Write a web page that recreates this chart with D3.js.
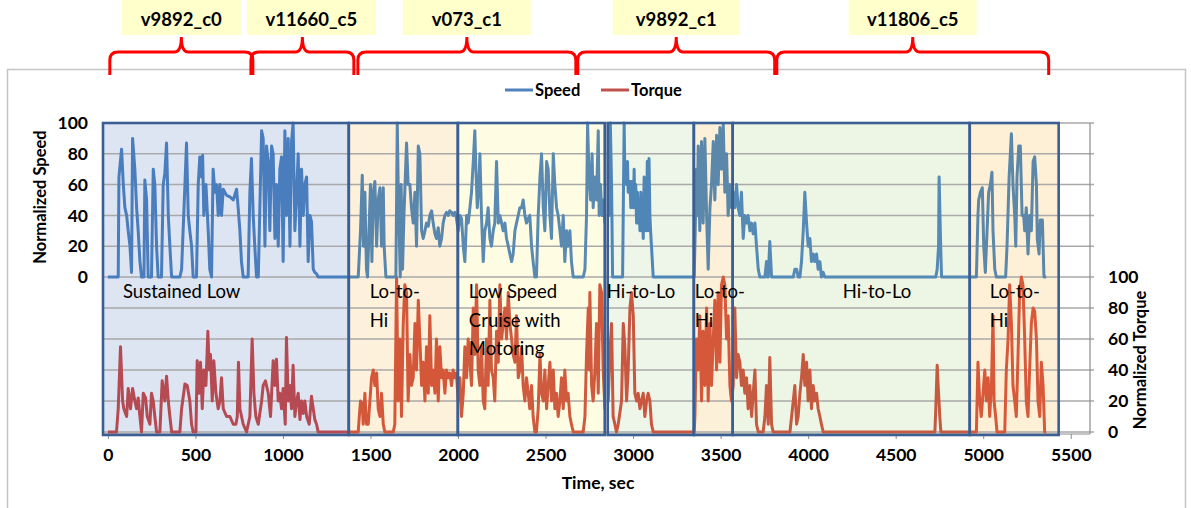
<!DOCTYPE html>
<html>
<head>
<meta charset="utf-8">
<script src="https://cdn.jsdelivr.net/npm/d3@7"></script>
<style>
body { margin: 0; background: #fff; }
text { font-family: Lato, "Liberation Sans", sans-serif; }
</style>
</head>
<body>
<div id="chart"></div>
<script>
// vehicle cycles shown as brackets above the chart (time, sec)
var cycleNames = ["v9892_c0", "v11660_c5", "v073_c1", "v9892_c1", "v11806_c5"];
var cycleStart = [11, 817, 1428, 2684, 3821];
var cycleEnd = [828, 1405, 2673, 3809, 5374];

// shaded segments (time, sec)
var regionLabels = [["Sustained Low"], ["Lo-to-", "Hi"], ["Low Speed", "Cruise with", "Motoring"],
                    ["Hi-to-Lo"], ["Lo-to-", "Hi"], ["Hi-to-Lo"], ["Lo-to-", "Hi"]];
var regionStart = [-28, 1376, 1999, 2855, 3347, 3569, 4923];
var regionEnd = [1376, 1999, 2838, 3347, 3569, 4923, 5431];

var xTicks = [0, 500, 1000, 1500, 2000, 2500, 3000, 3500, 4000, 4500, 5000, 5500];
var speedTicks = [0, 20, 40, 60, 80, 100];
var torqueTicks = [0, 20, 40, 60, 80, 100];

// [time, normalized speed]
var speed = [
  [0,0],[59,0],[63,65],[78,83],[88,60],[97,45],[107,40],[116,30],[126,20],[135,3],[141,90],[154,70],[164,45],[173,30],[183,10],[192,0],
  [206,0],[211,63],[221,50],[230,0],[249,0],[259,70],[268,60],[278,20],[287,0],[306,0],[316,60],[325,67],[335,87],[345,40],[354,20],[364,0],
  [411,0],[421,5],[440,60],[449,87],[459,40],[468,30],[478,20],[487,0],[506,0],[516,60],[525,78],[535,65],[541,79],[548,40],[560,60],[573,30],
  [582,5],[592,0],[601,70],[611,55],[621,60],[630,40],[640,60],[649,40],[659,57],[668,55],[678,53],[697,52],[716,50],[735,57],[744,45],[754,30],
  [763,10],[773,0],[801,0],[811,55],[820,77],[830,40],[839,20],[849,0],[859,0],[878,95],[887,90],[897,20],[906,85],[916,75],[925,30],[935,85],
  [944,80],[954,25],[963,60],[973,20],[982,70],[992,78],[1001,10],[1011,95],[1020,40],[1030,90],[1040,20],[1049,88],[1058,100],[1068,30],
  [1078,55],[1087,80],[1097,20],[1106,70],[1116,40],[1125,60],[1135,65],[1144,10],[1154,40],[1163,36],[1173,5],[1182,3],[1192,2],[1201,0],
  [1430,0],[1443,30],[1453,66],[1460,20],[1468,55],[1477,5],[1483,0],[1493,35],[1500,60],[1508,10],[1516,55],[1525,62],[1535,20],[1544,50],
  [1554,58],[1563,20],[1573,58],[1578,20],[1588,0],[1645,0],[1653,100],[1658,60],[1664,30],[1670,0],[1675,60],[1683,5],[1691,40],[1706,87],
  [1715,60],[1725,60],[1734,45],[1744,35],[1754,55],[1763,20],[1773,85],[1782,80],[1792,30],[1801,25],[1811,30],[1820,35],[1830,33],[1839,40],
  [1849,43],[1858,35],[1868,28],[1877,25],[1887,32],[1896,20],[1906,25],[1915,35],[1925,40],[1934,42],[1944,40],[1953,43],[1963,42],[1972,40],
  [1982,42],[1991,38],[2001,30],[2011,40],[2020,38],[2030,20],[2039,10],[2049,40],[2058,35],[2068,45],[2077,55],[2087,75],[2096,95],[2102,70],
  [2110,45],[2119,60],[2125,80],[2134,40],[2144,10],[2153,30],[2163,35],[2172,45],[2182,25],[2191,20],[2201,30],[2210,35],[2220,75],[2230,35],
  [2239,40],[2249,35],[2258,30],[2268,35],[2277,25],[2287,20],[2296,15],[2306,10],[2315,15],[2325,30],[2334,35],[2344,40],[2353,45],[2363,45],
  [2372,50],[2382,40],[2391,35],[2401,38],[2410,40],[2420,20],[2429,10],[2439,0],[2448,0],[2458,40],[2468,65],[2477,80],[2487,45],[2496,30],
  [2506,75],[2515,70],[2525,40],[2534,25],[2544,80],[2553,60],[2563,45],[2572,40],[2582,30],[2591,20],[2601,40],[2610,10],[2620,30],[2629,20],
  [2639,30],[2648,10],[2658,0],[2715,0],[2725,5],[2734,40],[2740,100],[2749,65],[2757,50],[2766,80],[2772,45],[2782,65],[2791,50],[2801,95],
  [2806,40],[2814,60],[2822,40],[2829,50],[2839,35],[2858,60],[2864,40],[2870,100],[2877,60],[2883,0],[2940,0],[2949,100],[2953,65],[2963,60],
  [2968,75],[2972,55],[2982,62],[2987,45],[2991,62],[3001,45],[3006,70],[3010,45],[3015,60],[3020,35],[3025,55],[3029,35],[3034,50],[3039,30],
  [3044,55],[3048,30],[3053,45],[3058,25],[3063,65],[3067,30],[3072,55],[3077,30],[3081,75],[3086,30],[3091,77],[3096,40],[3100,30],[3105,20],
  [3115,0],[3349,0],[3353,20],[3362,70],[3367,40],[3372,85],[3381,30],[3386,65],[3391,88],[3400,35],[3405,60],[3410,90],[3420,40],[3429,5],
  [3439,45],[3448,60],[3458,88],[3467,50],[3477,92],[3486,60],[3496,97],[3505,70],[3515,99],[3524,55],[3534,80],[3543,40],[3553,60],[3562,45],
  [3572,55],[3581,45],[3591,60],[3600,45],[3610,40],[3619,55],[3629,25],[3638,40],[3648,35],[3657,40],[3667,30],[3677,35],[3686,28],[3696,35],
  [3705,20],[3715,5],[3724,0],[3753,0],[3762,10],[3767,0],[3772,0],[3781,23],[3791,0],[3915,0],[3924,5],[3934,5],[3943,0],[3953,0],[3962,10],
  [3972,30],[3981,55],[3991,35],[4000,20],[4010,25],[4019,10],[4029,15],[4038,10],[4048,15],[4057,5],[4067,10],[4076,0],[4086,3],[4095,0],
  [4729,0],[4737,5],[4745,20],[4748,65],[4756,25],[4762,0],[4961,0],[4970,40],[4974,50],[4984,55],[4995,58],[5003,20],[5012,3],[5022,30],
  [5031,55],[5041,60],[5050,68],[5056,30],[5066,5],[5075,0],[5128,0],[5136,20],[5148,65],[5161,93],[5170,60],[5180,40],[5186,20],[5193,65],
  [5203,85],[5212,85],[5222,40],[5231,40],[5237,30],[5246,45],[5256,15],[5265,40],[5275,30],[5285,75],[5294,78],[5304,60],[5309,25],[5319,15],
  [5326,37],[5338,37],[5347,0],[5360,0]
];

// [time, normalized torque]
var torque = [
  [0,0],[49,0],[59,15],[72,55],[84,20],[91,15],[107,10],[116,28],[129,15],[141,28],[154,20],[164,15],[173,22],[183,10],[192,0],[202,25],
  [215,22],[225,10],[240,5],[249,25],[259,20],[268,10],[278,0],[297,0],[310,33],[325,20],[335,36],[345,20],[354,10],[364,0],[411,0],[421,15],
  [440,31],[453,30],[468,20],[478,5],[487,0],[503,0],[510,46],[520,25],[529,45],[539,15],[548,40],[560,30],[571,65],[579,40],[586,50],[596,20],
  [605,46],[617,25],[630,15],[640,20],[649,35],[659,15],[678,10],[697,10],[716,5],[731,5],[739,10],[746,45],[754,15],[773,5],[792,0],[811,10],
  [824,60],[834,25],[845,10],[859,5],[878,20],[887,30],[900,33],[916,25],[929,10],[944,46],[954,30],[963,47],[973,20],[982,25],[992,15],
  [1001,28],[1013,5],[1020,61],[1030,20],[1040,30],[1049,15],[1058,43],[1068,10],[1078,20],[1087,25],[1097,8],[1106,20],[1116,12],[1125,20],
  [1135,10],[1150,5],[1163,23],[1173,15],[1182,8],[1192,5],[1201,0],
  [1430,0],[1436,10],[1443,20],[1453,18],[1458,5],[1468,25],[1477,5],[1487,5],[1506,35],[1516,40],[1525,30],[1535,38],[1544,15],[1554,10],
  [1563,25],[1573,5],[1582,0],[1630,0],[1639,5],[1649,100],[1658,20],[1668,60],[1677,10],[1687,70],[1696,95],[1706,90],[1715,20],[1725,50],
  [1734,30],[1744,35],[1754,70],[1763,40],[1773,85],[1782,60],[1792,30],[1801,45],[1811,20],[1820,55],[1830,25],[1839,75],[1849,30],[1858,40],
  [1868,25],[1877,60],[1887,20],[1896,55],[1906,35],[1915,40],[1925,25],[1934,40],[1944,35],[1953,38],[1963,30],[1972,40],[1982,35],[1991,38],
  [2001,20],[2011,35],[2020,10],[2030,25],[2039,55],[2049,35],[2058,60],[2068,45],[2077,30],[2087,80],[2096,50],[2106,95],[2115,40],[2125,30],
  [2134,55],[2144,20],[2153,15],[2163,60],[2172,30],[2182,85],[2191,40],[2201,35],[2210,20],[2220,65],[2230,45],[2239,95],[2249,60],[2258,70],
  [2268,80],[2277,60],[2287,90],[2296,70],[2306,60],[2315,50],[2325,45],[2334,75],[2344,35],[2353,40],[2363,55],[2372,30],[2382,20],[2391,35],
  [2401,25],[2410,15],[2420,30],[2429,10],[2439,0],[2448,0],[2458,15],[2468,50],[2477,25],[2487,20],[2496,40],[2506,15],[2515,30],[2525,45],
  [2534,20],[2544,40],[2553,15],[2563,25],[2572,10],[2582,20],[2591,35],[2601,15],[2610,40],[2620,20],[2629,25],[2639,10],[2648,5],[2658,0],
  [2715,0],[2725,10],[2734,50],[2744,80],[2749,40],[2753,90],[2763,30],[2772,20],[2782,40],[2791,70],[2801,25],[2810,95],[2820,90],[2829,40],
  [2839,15],[2858,20],[2867,50],[2877,70],[2886,10],[2896,5],[2905,0],[2915,5],[2934,20],[2944,70],[2953,55],[2963,20],[2972,40],[2982,80],
  [2991,90],[3001,75],[3010,25],[3020,20],[3029,25],[3039,15],[3048,20],[3058,25],[3067,10],[3077,20],[3086,25],[3096,20],[3105,5],[3115,0],
  [3349,0],[3353,10],[3362,60],[3372,40],[3381,75],[3391,20],[3400,65],[3410,30],[3420,80],[3429,20],[3439,70],[3448,30],[3458,60],[3467,85],
  [3477,40],[3486,90],[3496,45],[3505,95],[3515,100],[3524,95],[3534,60],[3543,75],[3553,30],[3562,20],[3572,30],[3581,80],[3591,35],[3600,50],
  [3610,45],[3619,30],[3629,40],[3638,25],[3648,35],[3657,15],[3667,30],[3677,10],[3686,25],[3696,40],[3705,5],[3715,0],[3743,0],[3753,10],
  [3762,30],[3772,5],[3781,48],[3791,5],[3800,0],[3896,0],[3915,20],[3924,30],[3934,5],[3943,10],[3953,25],[3962,35],[3972,50],[3981,30],
  [3991,45],[4000,20],[4010,40],[4019,15],[4029,30],[4038,20],[4048,25],[4057,15],[4067,10],[4076,5],[4086,0],[4724,0],[4729,15],[4737,43],
  [4745,25],[4752,10],[4758,0],[4961,0],[4970,45],[4980,20],[4989,10],[4999,25],[5009,40],[5018,20],[5028,35],[5037,10],[5047,30],[5056,75],
  [5062,20],[5071,10],[5079,0],[5123,0],[5132,40],[5142,60],[5151,95],[5161,70],[5170,30],[5180,20],[5189,10],[5199,50],[5208,90],[5218,100],
  [5227,95],[5237,60],[5246,20],[5256,10],[5265,40],[5275,70],[5285,80],[5294,78],[5304,60],[5313,20],[5323,10],[5332,45],[5342,30],[5351,0],
  [5360,0]
];

function init() {

    var w = 1191;
    var h = 508;

    var plotLeft = 103, plotRight = 1090, plotTop = 123, plotBottom = 432;

    // region look: background, tinted line colours, label offset
    var regionStyle = [
        {fill: "#dde4f2", speed: "#4a7dbd", torque: "#b64a53", dx: 20},
        {fill: "#fdf1dc", speed: "#5886ad", torque: "#d4573a", dx: 21},
        {fill: "#fefde3", speed: "#5a8ab2", torque: "#cf5a3d", dx: 11},
        {fill: "#eef5e9", speed: "#4f86b8", torque: "#c9563f", dx: -1},
        {fill: "#fdf0d8", speed: "#5a87aa", torque: "#d6583a", dx: 1},
        {fill: "#edf5e4", speed: "#5589b6", torque: "#c55a41", dx: 110},
        {fill: "#fdf0d6", speed: "#5a87aa", torque: "#d8593a", dx: 20}
    ];

    // label box look: width and shift from bracket tip
    var cycleBox = [{w: 119, dx: 0}, {w: 129, dx: 9}, {w: 128, dx: 0}, {w: 127, dx: 0}, {w: 128, dx: 0}];

    var xScale = d3.scaleLinear()
                   .domain([-28, 5610])
                   .range([plotLeft, plotRight]);

    var speedScale = d3.scaleLinear()
                       .domain([0, 100])
                       .range([277, plotTop]);

    var torqueScale = d3.scaleLinear()
                        .domain([0, 100])
                        .range([plotBottom, 277]);

    var svg = d3.select("#chart")
                .append("svg")
                .attr("width", w)
                .attr("height", h);

    // chart frame
    svg.append("rect")
       .attr("x", 7.5)
       .attr("y", 69.5)
       .attr("width", 1178)
       .attr("height", 470)
       .attr("fill", "none")
       .attr("stroke", "#c4c4c4")
       .attr("stroke-width", 1.5);

    // region backgrounds
    svg.selectAll("rect.bg")
       .data(regionStart)
       .enter()
       .append("rect")
       .attr("class", "bg")
       .attr("x", function(d) { return xScale(d); })
       .attr("y", plotTop)
       .attr("width", function(d, i) { return xScale(regionEnd[i]) - xScale(d); })
       .attr("height", 435 - plotTop)
       .attr("fill", function(d, i) { return regionStyle[i].fill; });

    // gridlines
    var gridY = speedTicks.slice(1).map(function(d) { return speedScale(d); })
                .concat(torqueTicks.map(function(d) { return torqueScale(d); }));
    svg.selectAll("line.grid")
       .data(gridY)
       .enter()
       .append("line")
       .attr("class", "grid")
       .attr("x1", plotLeft)
       .attr("x2", plotRight + 4)
       .attr("y1", function(d) { return d; })
       .attr("y2", function(d) { return d; })
       .attr("stroke", "#a9a9a9")
       .attr("stroke-width", 1.5);

    // right vertical axis line
    svg.append("line")
       .attr("x1", plotRight).attr("x2", plotRight)
       .attr("y1", plotTop).attr("y2", plotBottom + 2)
       .attr("stroke", "#8c8c8c")
       .attr("stroke-width", 1.2);

    // x axis
    var xAxis = d3.axisBottom(xScale)
                  .tickValues(xTicks)
                  .tickFormat(d3.format("d"))
                  .tickSize(5)
                  .tickPadding(10);
    var gx = svg.append("g")
                .attr("transform", "translate(0,434)")
                .call(xAxis);
    gx.select(".domain").attr("stroke", "#8c8c8c").attr("d", "M" + plotLeft + ",0H" + plotRight);
    gx.selectAll(".tick line").attr("stroke", "#8c8c8c");
    gx.selectAll("text")
      .attr("font-family", "Lato, sans-serif")
      .attr("font-weight", "bold")
      .attr("font-size", 17.5)
      .attr("fill", "#000");

    // series, drawn per region with tinted colours
    var speedLine = d3.line()
                      .x(function(d) { return xScale(d[0]); })
                      .y(function(d) { return speedScale(d[1]); });
    var torqueLine = d3.line()
                       .x(function(d) { return xScale(d[0]); })
                       .y(function(d) { return torqueScale(d[1]); });

    var defs = svg.append("defs");
    regionStart.forEach(function(s, i) {
        defs.append("clipPath")
            .attr("id", "clip" + i)
            .append("rect")
            .attr("x", xScale(s))
            .attr("y", plotTop - 5)
            .attr("width", xScale(regionEnd[i]) - xScale(s))
            .attr("height", plotBottom - plotTop + 10);

        var g = svg.append("g").attr("clip-path", "url(#clip" + i + ")");
        g.append("path")
         .datum(torque)
         .attr("d", torqueLine)
         .attr("fill", "none")
         .attr("stroke", regionStyle[i].torque)
         .attr("stroke-width", 3)
         .attr("stroke-linejoin", "round");
        g.append("path")
         .datum(speed)
         .attr("d", speedLine)
         .attr("fill", "none")
         .attr("stroke", regionStyle[i].speed)
         .attr("stroke-width", 3)
         .attr("stroke-linejoin", "round");
    });

    // region borders
    svg.selectAll("rect.border")
       .data(regionStart)
       .enter()
       .append("rect")
       .attr("class", "border")
       .attr("x", function(d) { return xScale(d); })
       .attr("y", plotTop)
       .attr("width", function(d, i) { return xScale(regionEnd[i]) - xScale(d); })
       .attr("height", 435 - plotTop)
       .attr("fill", "none")
       .attr("stroke", "#3b5e93")
       .attr("stroke-width", 2.6);

    // region labels
    regionLabels.forEach(function(lines, i) {
        var t = svg.append("text")
                   .attr("x", xScale(regionStart[i]) + regionStyle[i].dx)
                   .attr("y", 298)
                   .attr("font-family", "DejaVu Sans, sans-serif")
                   .attr("font-size", 18.5)
                   .attr("fill", "#000");
        lines.forEach(function(l, j) {
            t.append("tspan")
             .attr("x", xScale(regionStart[i]) + regionStyle[i].dx)
             .attr("y", 298 + j * 28.5)
             .text(l);
        });
    });

    // left axis labels (speed)
    svg.selectAll("text.sp")
       .data(speedTicks)
       .enter()
       .append("text")
       .attr("class", "sp")
       .attr("x", 88)
       .attr("y", function(d) { return speedScale(d); })
       .attr("dy", "0.35em")
       .attr("text-anchor", "end")
       .attr("font-weight", "bold")
       .attr("font-size", 17.5)
       .text(function(d) { return d; });

    // right axis labels (torque)
    svg.selectAll("text.tq")
       .data(torqueTicks)
       .enter()
       .append("text")
       .attr("class", "tq")
       .attr("x", 1108)
       .attr("y", function(d) { return torqueScale(d); })
       .attr("dy", "0.35em")
       .attr("font-weight", "bold")
       .attr("font-size", 17.5)
       .text(function(d) { return d; });

    // axis titles
    svg.append("text")
       .attr("transform", "translate(46,197) rotate(-90)")
       .attr("text-anchor", "middle")
       .attr("font-weight", "bold")
       .attr("font-size", 16.5)
       .text("Normalized Speed");

    svg.append("text")
       .attr("transform", "translate(1146,360) rotate(-90)")
       .attr("text-anchor", "middle")
       .attr("font-weight", "bold")
       .attr("font-size", 16.5)
       .text("Normalized Torque");

    svg.append("text")
       .attr("x", 598)
       .attr("y", 489)
       .attr("text-anchor", "middle")
       .attr("font-weight", "bold")
       .attr("font-size", 17.5)
       .text("Time, sec");

    // legend
    var legend = [["Speed", "#4f81bd", 505], ["Torque", "#c0504d", 601]];
    legend.forEach(function(d) {
        svg.append("line")
           .attr("x1", d[2]).attr("x2", d[2] + 28)
           .attr("y1", 90).attr("y2", 90)
           .attr("stroke", d[1])
           .attr("stroke-width", 3);
        svg.append("text")
           .attr("x", d[2] + 30)
           .attr("y", 90)
           .attr("dy", "0.35em")
           .attr("font-weight", "bold")
           .attr("font-size", 16.5)
           .text(d[0]);
    });

    // cycle brackets and labels
    cycleNames.forEach(function(name, i) {
        var a = xScale(cycleStart[i]);
        var b = xScale(cycleEnd[i]);
        var m = (a + b) / 2;
        var p = "M" + a + ",75 L" + a + ",60 Q" + a + ",52 " + (a + 8) + ",52 L" + (m - 7) + ",52"
              + " Q" + m + ",52 " + m + ",37 Q" + m + ",52 " + (m + 7) + ",52 L" + (b - 8) + ",52"
              + " Q" + b + ",52 " + b + ",60 L" + b + ",75";
        svg.append("path")
           .attr("d", p)
           .attr("fill", "none")
           .attr("stroke", "#ff0000")
           .attr("stroke-width", 3);

        var cx = m + cycleBox[i].dx;
        var g = svg.append("g");
        g.append("rect")
         .attr("x", cx - cycleBox[i].w / 2)
         .attr("y", 0)
         .attr("width", cycleBox[i].w)
         .attr("height", 35)
         .attr("fill", "#ffffcc");
        g.append("text")
         .attr("x", cx)
         .attr("y", 26)
         .attr("text-anchor", "middle")
         .attr("font-weight", "bold")
         .attr("font-size", 18.5)
         .text(name);
    });
}

window.onload = init;
</script>
</body>
</html>
